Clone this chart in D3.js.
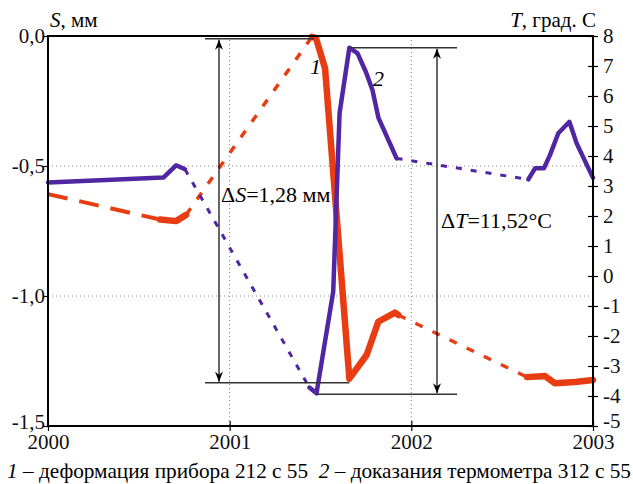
<!DOCTYPE html>
<html><head><meta charset="utf-8">
<script src="https://cdn.jsdelivr.net/npm/d3@7"></script>
<style>body{margin:0;background:#fff}svg{display:block}</style>
</head><body>
<script>
// ---- data ----
const yearTicks = [2000, 2001, 2002, 2003];
const sTicks = [0, -0.5, -1.0, -1.5];
const tTicks = [8,7,6,5,4,3,2,1,0,-1,-2,-3,-4,-5];

// series 1: deformation S, mm (left axis)
const redYears = [2000.0, 2000.617, 2000.705, 2000.760, 2001.453, 2001.475, 2001.525, 2001.659, 2001.754, 2001.818, 2001.910, 2001.928, 2002.637, 2002.736, 2002.791, 2002.901, 2003.0];
const redS     = [-0.608, -0.706, -0.712, -0.688, -0.003, -0.008, -0.124, -1.318, -1.227, -1.099, -1.064, -1.073, -1.312, -1.308, -1.336, -1.331, -1.323];
// segment styles between consecutive points
const redSeg   = ["long","solid","solid","dash","solid","solid","solid","solid","solid","solid","solid","dash","solid","solid","solid","solid"];

// series 2: thermometer T, °C (right axis)
const purpleYears = [2000.0, 2000.635, 2000.705, 2000.754, 2001.439, 2001.478, 2001.570, 2001.605, 2001.659, 2001.704, 2001.750, 2001.786, 2001.819, 2001.919, 2002.644, 2002.681, 2002.730, 2002.763, 2002.809, 2002.870, 2002.910, 2003.0];
const purpleT     = [3.12, 3.28, 3.69, 3.56, -3.72, -3.91, -0.52, 5.43, 7.61, 7.42, 6.8, 6.2, 5.27, 3.92, 3.22, 3.59, 3.59, 4.03, 4.76, 5.14, 4.42, 3.27];
const purpleSeg   = ["solid","solid","solid","dot","solid","solid","solid","solid","solid","solid","solid","solid","solid","dot","solid","solid","solid","solid","solid","solid","solid"];

// annotated extremes (index into the series above)
const sTopIdx = 4, sBotIdx = 7, tTopIdx = 8, tBotIdx = 5;
const deltaS = "1,28";
const deltaT = "11,52";

// ---- layout ----
const W = 633, H = 484;
const m = {l:48, r:40, t:36, b:58};
const FONT = "Liberation Serif";
const svg = d3.select("body").append("svg").attr("width", W).attr("height", H)
  .attr("font-family", FONT);

const x = d3.scaleLinear().domain([2000, 2003]).range([m.l, W - m.r]);
const yS = d3.scaleLinear().domain([-1.5, 0]).range([H - m.b, m.t]);
const yT = d3.scaleLinear().domain([-5, 8]).range([H - m.b, m.t]);

const red = "#e83c12", purple = "#5026a2";

// grid
const grid = svg.append("g").attr("stroke", "#888").attr("stroke-width", 1).attr("stroke-dasharray", "1,3");
[-0.5, -1.0].forEach(v => grid.append("line").attr("x1", x(2000)).attr("x2", x(2003)).attr("y1", yS(v)).attr("y2", yS(v)));
[2001, 2002].forEach(v => grid.append("line").attr("x1", x(v)).attr("x2", x(v)).attr("y1", yS(0)).attr("y2", yS(-1.5)));

// draw segmented lines
const styles = {
  red: {long:{w:4, dash:"20,12"}, dash:{w:3.5, dash:"8,11"}, solid:{w:6.5, dash:null}},
  purple: {dot:{w:3, dash:"6,9"}, solid:{w:4.5, dash:null}}
};
function drawSeries(years, vals, segs, yScale, color, st) {
  const line = d3.line().x(d => x(d[0])).y(d => yScale(d[1]));
  let i = 0;
  while (i < segs.length) {
    let j = i;
    while (j + 1 < segs.length && segs[j + 1] === segs[i]) j++;
    const pts = [];
    for (let k = i; k <= j + 1; k++) pts.push([years[k], vals[k]]);
    const s = st[segs[i]];
    svg.append("path").attr("d", line(pts)).attr("fill", "none").attr("stroke", color)
      .attr("stroke-width", s.w).attr("stroke-dasharray", s.dash)
      .attr("stroke-linejoin", "round").attr("stroke-linecap", s.dash ? "butt" : "round");
    i = j + 1;
  }
}
drawSeries(redYears, redS, redSeg, yS, red, styles.red);
drawSeries(purpleYears, purpleT, purpleSeg, yT, purple, styles.purple);

// frame
svg.append("rect").attr("x", m.l).attr("y", m.t).attr("width", W - m.r - m.l).attr("height", H - m.b - m.t)
  .attr("fill", "none").attr("stroke", "#000").attr("stroke-width", 2);

// axes
const fmtS = v => d3.format(".1f")(v).replace(".", ",").replace("\u2212", "-");
const axL = svg.append("g").attr("transform", `translate(${m.l},0)`)
  .call(d3.axisLeft(yS).tickValues(sTicks).tickFormat(fmtS).tickSize(5));
const axR = svg.append("g").attr("transform", `translate(${W - m.r},0)`)
  .call(d3.axisRight(yT).tickValues(tTicks).tickFormat(v => String(v)).tickSize(5));
axR.selectAll(".tick line").attr("x1", -5).attr("x2", 5);
const axB = svg.append("g").attr("transform", `translate(0,${H - m.b})`)
  .call(d3.axisBottom(x).tickValues(yearTicks).tickFormat(d3.format("d")).tickSize(5));
axB.selectAll(".tick line").attr("y1", -5).attr("y2", 5);
[axL, axR, axB].forEach(a => {
  a.attr("font-family", FONT).attr("font-size", 21);
  a.select(".domain").remove();
  a.selectAll(".tick line").attr("stroke", "#000").attr("stroke-width", 1.2);
  a.selectAll(".tick text").attr("fill", "#111");
});
axL.selectAll(".tick text").attr("x", -3).attr("dy", "0.3em");
axL.selectAll(".tick").filter(d => d === -1.5).select("text").attr("dy", "0.1em");
axR.selectAll(".tick text").attr("x", 10).attr("dy", "0.33em");
axR.selectAll(".tick").filter(d => d === -5).select("text").attr("dy", "0.08em");
axB.selectAll(".tick text").attr("y", 8);

// axis titles
const tS = svg.append("text").attr("x", 50).attr("y", 27).attr("font-size", 21);
tS.append("tspan").attr("font-style", "italic").text("S");
tS.append("tspan").text(", мм");
const tT = svg.append("text").attr("x", 596).attr("y", 27).attr("font-size", 21).attr("text-anchor", "end");
tT.append("tspan").attr("font-style", "italic").text("T");
tT.append("tspan").text(", град. С");

// annotations
const ann = svg.append("g");
ann.append("defs").append("marker").attr("id", "ah").attr("viewBox", "0 0 10 24")
  .attr("refX", 10).attr("refY", 12).attr("markerWidth", 10).attr("markerHeight", 24)
  .attr("markerUnits", "userSpaceOnUse").attr("orient", "auto")
  .append("path").attr("d", "M0,8 L10,12 L0,16 L3,12 Z").attr("fill", "#000");
function bracket(xArrow, yTop, yBot, topX1, topX2, botX1, botX2) {
  ann.append("line").attr("x1", topX1).attr("x2", topX2).attr("y1", yTop).attr("y2", yTop).attr("stroke", "#333").attr("stroke-width", 1.5);
  ann.append("line").attr("x1", botX1).attr("x2", botX2).attr("y1", yBot).attr("y2", yBot).attr("stroke", "#333").attr("stroke-width", 1.5);
  const mid = (yTop + yBot) / 2;
  ann.append("line").attr("x1", xArrow).attr("x2", xArrow).attr("y1", mid).attr("y2", yTop + 1)
    .attr("stroke", "#000").attr("stroke-width", 1.2).attr("marker-end", "url(#ah)");
  ann.append("line").attr("x1", xArrow).attr("x2", xArrow).attr("y1", mid).attr("y2", yBot - 1)
    .attr("stroke", "#000").attr("stroke-width", 1.2).attr("marker-end", "url(#ah)");
}
bracket(219, yS(redS[sTopIdx]) + 2, yS(redS[sBotIdx]) + 4, 205, x(redYears[sTopIdx]) + 2, 205, x(redYears[sBotIdx]));
bracket(437, yT(purpleT[tTopIdx]), yT(purpleT[tBotIdx]) + 1, x(purpleYears[tTopIdx]), 457, x(purpleYears[tBotIdx]), 457);

const dS = svg.append("text").attr("x", 221).attr("y", 202).attr("font-size", 22);
dS.append("tspan").text("Δ");
dS.append("tspan").attr("font-style", "italic").text("S");
dS.append("tspan").text("=" + deltaS + " мм");
const dT = svg.append("text").attr("x", 441).attr("y", 228).attr("font-size", 22);
dT.append("tspan").text("Δ");
dT.append("tspan").attr("font-style", "italic").text("T");
dT.append("tspan").text("=" + deltaT + "°C");

svg.append("text").attr("x", 310).attr("y", 74).attr("font-size", 22).attr("font-style", "italic").text("1");
svg.append("text").attr("x", 373).attr("y", 86).attr("font-size", 22).attr("font-style", "italic").text("2");

// caption
const cap = svg.append("text").attr("x", 7).attr("y", 478).attr("font-size", 21)
  .attr("textLength", 624).attr("lengthAdjust", "spacingAndGlyphs").style("white-space", "pre");
cap.append("tspan").attr("font-style", "italic").text("1");
cap.append("tspan").text(" – деформация прибора 212 с 55  ");
cap.append("tspan").attr("font-style", "italic").text("2");
cap.append("tspan").text(" – доказания термометра 312 с 55");
</script>
</body></html>
